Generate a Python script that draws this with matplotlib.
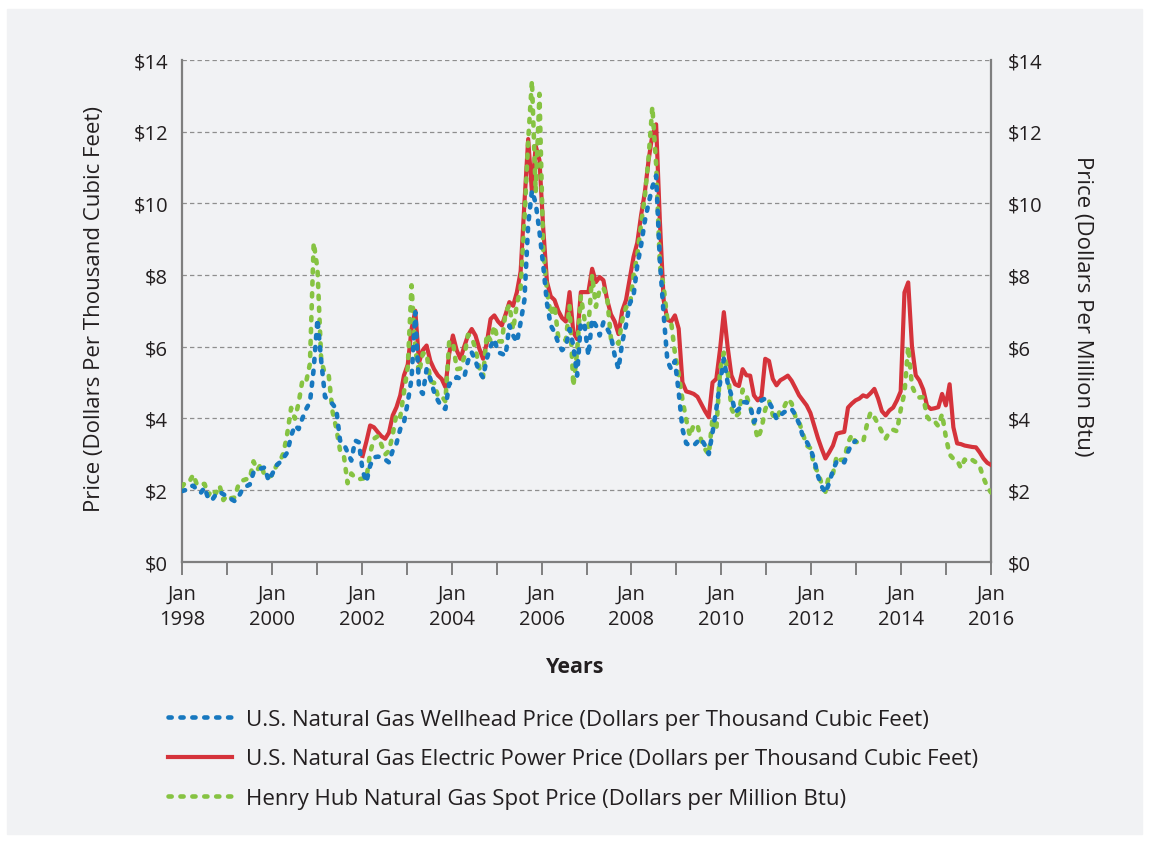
import numpy as np
import matplotlib
matplotlib.use("Agg")
import matplotlib.pyplot as plt
from matplotlib.patches import Rectangle
from matplotlib.lines import Line2D

# monthly prices, Jan 1998 .. Dec 2015
henry_hub = [
    2.09, 2.23, 2.24, 2.43, 2.14, 2.17, 2.17, 1.85, 2.02, 1.91, 2.12, 1.72,
    1.85, 1.77, 1.79, 2.15, 2.26, 2.30, 2.31, 2.80, 2.55, 2.73, 2.37, 2.36,
    2.42, 2.66, 2.79, 3.04, 3.59, 4.29, 3.99, 4.43, 5.06, 5.02, 5.52, 8.90,
    8.17, 5.61, 5.23, 5.19, 4.19, 3.72, 3.11, 2.97, 2.19, 2.46, 2.34, 2.30,
    2.32, 2.32, 3.03, 3.43, 3.50, 3.26, 2.99, 3.09, 3.55, 4.13, 4.04, 4.74,
    5.43, 7.71, 5.93, 5.26, 5.81, 5.82, 5.03, 4.99, 4.62, 4.63, 4.47, 6.13,
    6.14, 5.37, 5.39, 5.71, 6.33, 6.27, 5.93, 5.41, 5.15, 6.35, 6.17, 6.58,
    6.15, 6.14, 6.96, 7.16, 6.47, 7.18, 7.63, 9.53, 11.75, 13.42, 10.30, 13.05,
    8.69, 7.54, 6.89, 7.16, 6.25, 6.21, 6.17, 7.14, 4.90, 5.85, 7.41, 6.73,
    6.55, 8.00, 7.11, 7.60, 7.64, 7.35, 6.22, 6.22, 6.08, 6.74, 7.10, 7.11,
    7.99, 8.54, 9.41, 10.18, 11.27, 12.69, 11.09, 8.26, 7.67, 6.74, 6.68, 5.82,
    5.24, 4.52, 3.96, 3.50, 3.83, 3.80, 3.38, 3.14, 2.99, 4.01, 3.66, 5.35,
    5.83, 5.32, 4.29, 4.03, 4.14, 4.80, 4.63, 4.32, 3.89, 3.43, 3.71, 4.25,
    4.49, 4.09, 3.97, 4.24, 4.31, 4.54, 4.42, 4.06, 3.90, 3.57, 3.24, 3.17,
    2.67, 2.50, 2.17, 1.95, 2.43, 2.46, 2.95, 2.84, 2.85, 3.32, 3.54, 3.34,
    3.33, 3.33, 3.81, 4.17, 4.04, 3.83, 3.62, 3.43, 3.62, 3.68, 3.64, 4.24,
    4.71, 6.00, 4.90, 4.66, 4.58, 4.59, 4.05, 3.91, 3.92, 3.78, 4.12, 3.48,
    2.99, 2.87, 2.83, 2.61, 2.85, 2.78, 2.84, 2.77, 2.66, 2.34, 2.09, 1.93,
]

# Jan 1998 .. Dec 2012
wellhead = [
    1.97, 2.00, 2.10, 2.12, 2.00, 1.92, 2.07, 1.75, 1.72, 1.88, 1.95, 1.88,
    1.82, 1.75, 1.69, 1.80, 2.01, 2.10, 2.15, 2.49, 2.55, 2.60, 2.63, 2.26,
    2.45, 2.68, 2.77, 2.90, 3.05, 3.51, 3.80, 3.70, 4.00, 4.26, 4.45, 5.37,
    6.77, 5.60, 4.60, 4.50, 4.40, 4.26, 3.38, 3.29, 3.05, 2.82, 3.38, 3.33,
    2.54, 2.22, 2.68, 2.91, 2.93, 2.92, 2.85, 2.77, 3.10, 3.30, 3.70, 3.89,
    4.45, 5.10, 6.96, 4.82, 4.68, 5.37, 5.10, 4.73, 4.50, 4.31, 4.26, 4.96,
    5.00, 5.15, 5.10, 5.14, 5.60, 5.84, 5.60, 5.30, 5.14, 5.66, 6.00, 6.21,
    5.84, 5.80, 5.75, 6.59, 6.31, 6.12, 6.68, 7.30, 9.40, 10.35, 10.00, 9.20,
    8.26, 7.20, 6.59, 6.40, 6.10, 5.90, 6.00, 6.49, 6.03, 5.19, 6.68, 6.59,
    5.75, 6.77, 6.59, 6.31, 6.68, 6.50, 6.30, 5.75, 5.37, 6.12, 6.60, 7.20,
    7.42, 8.26, 8.82, 9.50, 10.00, 10.45, 10.77, 8.40, 6.90, 5.60, 5.37, 5.60,
    4.73, 3.70, 3.30, 3.24, 3.24, 3.35, 3.43, 3.24, 3.00, 3.61, 4.26, 5.00,
    5.66, 5.00, 4.64, 4.17, 4.26, 4.45, 4.45, 4.36, 3.89, 4.08, 4.50, 4.55,
    4.45, 4.26, 3.98, 4.08, 4.17, 4.22, 4.26, 4.10, 3.85, 3.50, 3.35, 3.15,
    2.85, 2.40, 2.10, 1.92, 2.20, 2.55, 2.80, 2.82, 2.77, 3.06, 3.30, 3.36,
]

# Jan 2002 .. Dec 2015
electric_start_year = 2002
electric = [
    2.95, 3.35, 3.80, 3.75, 3.62, 3.50, 3.43, 3.60, 4.08, 4.31, 4.64, 5.20,
    5.50, 6.49, 7.00, 5.56, 5.90, 6.03, 5.60, 5.37, 5.20, 5.10, 4.87, 5.80,
    6.31, 5.90, 5.66, 6.00, 6.31, 6.49, 6.31, 5.95, 5.66, 6.10, 6.77, 6.87,
    6.70, 6.59, 6.90, 7.24, 7.14, 7.52, 8.10, 10.00, 11.79, 10.30, 11.60, 11.20,
    9.30, 7.80, 7.40, 7.30, 7.00, 6.80, 6.70, 7.52, 6.40, 6.21, 7.52, 7.52,
    7.52, 8.17, 7.80, 7.94, 7.85, 7.30, 6.90, 6.70, 6.35, 7.00, 7.30, 7.90,
    8.50, 8.90, 9.66, 10.30, 11.20, 11.90, 12.20, 9.50, 7.30, 6.75, 6.70, 6.87,
    6.50, 5.00, 4.75, 4.72, 4.68, 4.60, 4.40, 4.20, 4.03, 5.00, 5.10, 5.93,
    6.96, 6.00, 5.20, 4.95, 4.90, 5.37, 5.20, 5.19, 4.64, 4.50, 4.60, 5.66,
    5.60, 5.10, 4.92, 5.06, 5.12, 5.19, 5.05, 4.85, 4.64, 4.50, 4.36, 4.15,
    3.80, 3.45, 3.15, 2.88, 3.05, 3.24, 3.57, 3.60, 3.62, 4.30, 4.41, 4.50,
    4.55, 4.64, 4.60, 4.70, 4.82, 4.55, 4.20, 4.08, 4.22, 4.30, 4.50, 4.75,
    7.51, 7.79, 6.00, 5.20, 5.05, 4.80, 4.35, 4.26, 4.28, 4.31, 4.68, 4.36,
    4.95, 3.75, 3.30, 3.28, 3.24, 3.22, 3.20, 3.19, 3.05, 2.88, 2.76, 2.70,
]

years = list(range(1998, 2017))
year_labels = ["Jan\n%d" % y if y % 2 == 0 else "" for y in years]
y_ticks = [0, 2, 4, 6, 8, 10, 12, 14]

labels = [
    "U.S. Natural Gas Wellhead Price (Dollars per Thousand Cubic Feet)",
    "U.S. Natural Gas Electric Power Price (Dollars per Thousand Cubic Feet)",
    "Henry Hub Natural Gas Spot Price (Dollars per Million Btu)",
]

BLUE = "#1778bf"
RED = "#d5333b"
GREEN = "#86c342"
BG = "#f1f2f4"
TXT = "#231f20"
AXC = "#7f7f7f"
FS = 14.5      # tick labels
FL = 16        # axis titles, legend

plt.rcParams["font.family"] = ["Open Sans", "DejaVu Sans"]

W, H = 1149, 845
fig = plt.figure(figsize=(W / 100, H / 100), dpi=100)
fig.patches.append(Rectangle((7 / W, 10 / H), (W - 14) / W, (H - 20) / H,
                             transform=fig.transFigure, color=BG, zorder=-5))

ax = fig.add_axes([182 / W, (H - 562.7) / H, (991 - 182) / W, (562.7 - 60.8) / H])
ax.set_facecolor("none")

# months spread evenly from the Jan 1998 tick to the Jan 2016 tick
n = len(henry_hub)
xpos = np.linspace(1998, 2016, n)
e0 = (electric_start_year - 1998) * 12

dots = (0, (0.7, 1.9))
LW = 3.3
ax.plot(xpos[e0:e0 + len(electric)], electric, color=RED, lw=3,
        solid_joinstyle="round", zorder=3)
ax.plot(xpos, henry_hub, color=GREEN, lw=LW, linestyle=dots,
        dash_capstyle="round", zorder=4)
ax.plot(xpos[:len(wellhead)], wellhead, color=BLUE, lw=LW, linestyle=dots,
        dash_capstyle="round", zorder=5)

ax.set_xlim(1998, 2016)
ax.set_ylim(0, 14)
ax.set_yticks(y_ticks)
ax.set_yticklabels(["\\$%d" % v for v in y_ticks])
ax.set_xticks(years)
ax.set_xticklabels(year_labels, linespacing=1.35)
ax.yaxis.grid(True, linestyle=(0, (3.5, 2.5)), color="#8e8e8e", lw=0.9, zorder=1)
ax.set_axisbelow(True)

for s in ["left", "right", "bottom"]:
    ax.spines[s].set_color(AXC)
    ax.spines[s].set_linewidth(1.6)
ax.spines["top"].set_visible(False)
ax.tick_params(axis="y", length=0, pad=10, labelsize=FS, labelcolor=TXT)
ax.tick_params(axis="x", length=9, width=1.4, color=AXC, direction="out",
               pad=7, labelsize=FS, labelcolor=TXT)

ax2 = ax.twinx()
ax2.set_ylim(0, 14)
ax2.set_yticks(y_ticks)
ax2.set_yticklabels(["\\$%d" % v for v in y_ticks])
for s in ax2.spines.values():
    s.set_visible(False)
ax2.tick_params(axis="y", length=0, pad=12, labelsize=FS, labelcolor=TXT)

fig.text(95 / W, 1 - 309 / H, "Price (Dollars Per Thousand Cubic Feet)",
         rotation=90, ha="center", va="center", fontsize=FL, color=TXT)
fig.text(1083 / W, 1 - 306 / H, "Price (Dollars Per Million Btu)",
         rotation=270, ha="center", va="center", fontsize=FL, color=TXT)
fig.text(575 / W, 1 - 668 / H, "Years", ha="center", va="center",
         fontsize=15.5, fontweight="bold", color=TXT)

handles = [
    Line2D([], [], color=BLUE, lw=LW, linestyle=dots, dash_capstyle="round"),
    Line2D([], [], color=RED, lw=3),
    Line2D([], [], color=GREEN, lw=LW, linestyle=dots, dash_capstyle="round"),
]
leg = fig.legend(handles, labels, loc="upper left",
                 bbox_to_anchor=(168 / W, 1 - 710 / H), frameon=False,
                 fontsize=FL, handlelength=2.9, handletextpad=0.63,
                 labelspacing=0.83, borderpad=0, borderaxespad=0)
for t in leg.get_texts():
    t.set_color(TXT)

fig.savefig("out.png", dpi=100)
